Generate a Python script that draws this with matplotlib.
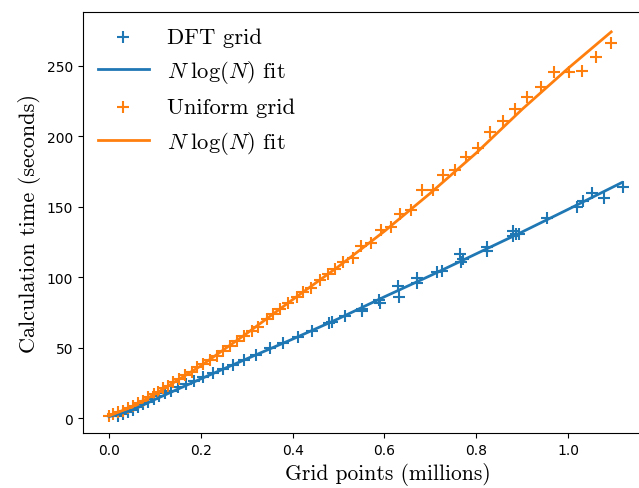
import matplotlib
matplotlib.use("Agg")
import matplotlib.pyplot as plt

plt.rcParams['mathtext.fontset'] = 'cm'

# DFT grid timings (grid points in millions, seconds)
dft_x = [0.020, 0.031, 0.042, 0.053, 0.064, 0.075, 0.086, 0.097, 0.110, 0.122,
         0.135, 0.151, 0.168, 0.186, 0.205, 0.227, 0.249, 0.271, 0.294, 0.320,
         0.351, 0.380, 0.412, 0.442, 0.480, 0.485, 0.514, 0.551, 0.552, 0.589,
         0.590, 0.630, 0.632, 0.672, 0.672, 0.715, 0.725, 0.765, 0.771, 0.767,
         0.824, 0.824, 0.880, 0.887, 0.880, 0.894, 0.955, 1.019, 1.033, 1.052,
         1.078, 1.120]
dft_t = [1.6, 2.6, 4.0, 5.9, 7.6, 9.9, 11.5, 13.5, 15.8, 17.5,
         19.3, 21.7, 24.1, 26.4, 28.8, 31.9, 34.7, 37.5, 41.1, 44.6,
         49.6, 52.9, 57.6, 61.8, 67.3, 67.8, 72.5, 77.7, 75.8, 83.6,
         81.4, 93.7, 85.9, 99.6, 96.1, 103.9, 104.3, 116.1, 113.1, 111.0,
         121.6, 118.5, 132.6, 130.5, 129.1, 130.8, 142.1, 149.9, 153.9, 159.3,
         156.3, 164.1]

# DFT fit curve
dft_fit_x = [0.0, 0.05, 0.1, 0.2, 0.3, 0.4, 0.5, 0.6, 0.7, 0.8, 0.9, 1.0, 1.117]
dft_fit_t = [1.0, 5.5, 13.2, 27.8, 42.0, 56.0, 70.5, 86.0, 101.0, 116.5, 132.0, 148.0, 167.0]

# Uniform grid timings
uni_x = [0.000, 0.009, 0.020, 0.031, 0.042, 0.053, 0.064, 0.075, 0.086, 0.097,
         0.107, 0.118, 0.129, 0.140, 0.153, 0.166, 0.180, 0.192, 0.205, 0.220,
         0.235, 0.249, 0.264, 0.278, 0.294, 0.311, 0.325, 0.344, 0.358, 0.373,
         0.391, 0.409, 0.423, 0.439, 0.460, 0.478, 0.492, 0.510, 0.531, 0.550,
         0.570, 0.592, 0.614, 0.634, 0.657, 0.681, 0.705, 0.728, 0.754, 0.778,
         0.803, 0.830, 0.858, 0.885, 0.911, 0.941, 0.970, 1.002, 1.030, 1.061,
         1.093]
uni_t = [1.6, 2.8, 4.0, 5.2, 6.9, 8.7, 10.6, 12.3, 14.7, 16.8,
         18.6, 21.0, 22.9, 25.3, 27.6, 30.5, 32.8, 35.9, 38.2, 41.3,
         44.1, 47.7, 51.2, 54.7, 58.3, 61.8, 64.9, 70.1, 73.7, 77.2,
         81.9, 86.2, 89.4, 92.5, 97.9, 102.0, 105.5, 110.7, 113.8, 122.0,
         124.0, 133.4, 135.7, 145.0, 147.3, 161.7, 161.7, 172.1, 175.7, 185.3,
         191.7, 203.1, 211.0, 219.3, 227.6, 234.9, 245.3, 245.3, 246.5, 256.2,
         266.0]

# Uniform fit curve
uni_fit_x = [0.0, 0.05, 0.1, 0.2, 0.3, 0.4, 0.5, 0.6, 0.7, 0.8, 0.9, 1.0, 1.094]
uni_fit_t = [1.5, 8.0, 17.0, 37.0, 60.0, 84.0, 107.5, 132.5, 159.5, 188.0, 219.0, 248.0, 273.9]

fig = plt.figure(figsize=(6.39, 4.89), dpi=100)
ax = fig.add_axes([83/639, 55/489, 609/639, 421/489])

ax.scatter(dft_x, dft_t, marker='+', s=65, color='C0', label='DFT grid')
ax.plot(dft_fit_x, dft_fit_t, color='C0', lw=2, label=r'$N\;\log(N)$ fit')
ax.scatter(uni_x, uni_t, marker='+', s=65, color='C1', label='Uniform grid')
ax.plot(uni_fit_x, uni_fit_t, color='C1', lw=2, label=r'$N\;\log(N)$ fit')

ax.set_xlim(-0.0566, 1.27)
ax.set_ylim(-10.6, 288)
ax.set_xticks([0.0, 0.2, 0.4, 0.6, 0.8, 1.0])
ax.set_yticks([0, 50, 100, 150, 200, 250])

ax.set_xlabel('Grid points (millions)', family='cmr10', fontsize=15.5)
ax.set_ylabel('Calculation time (seconds)', family='cmr10', fontsize=16)
ax.legend(loc='upper left', frameon=False, handlelength=2.25,
          borderaxespad=0.25, labelspacing=0.52,
          prop={'family': 'cmr10', 'size': 16.3})

fig.savefig('out.png', dpi=100)
